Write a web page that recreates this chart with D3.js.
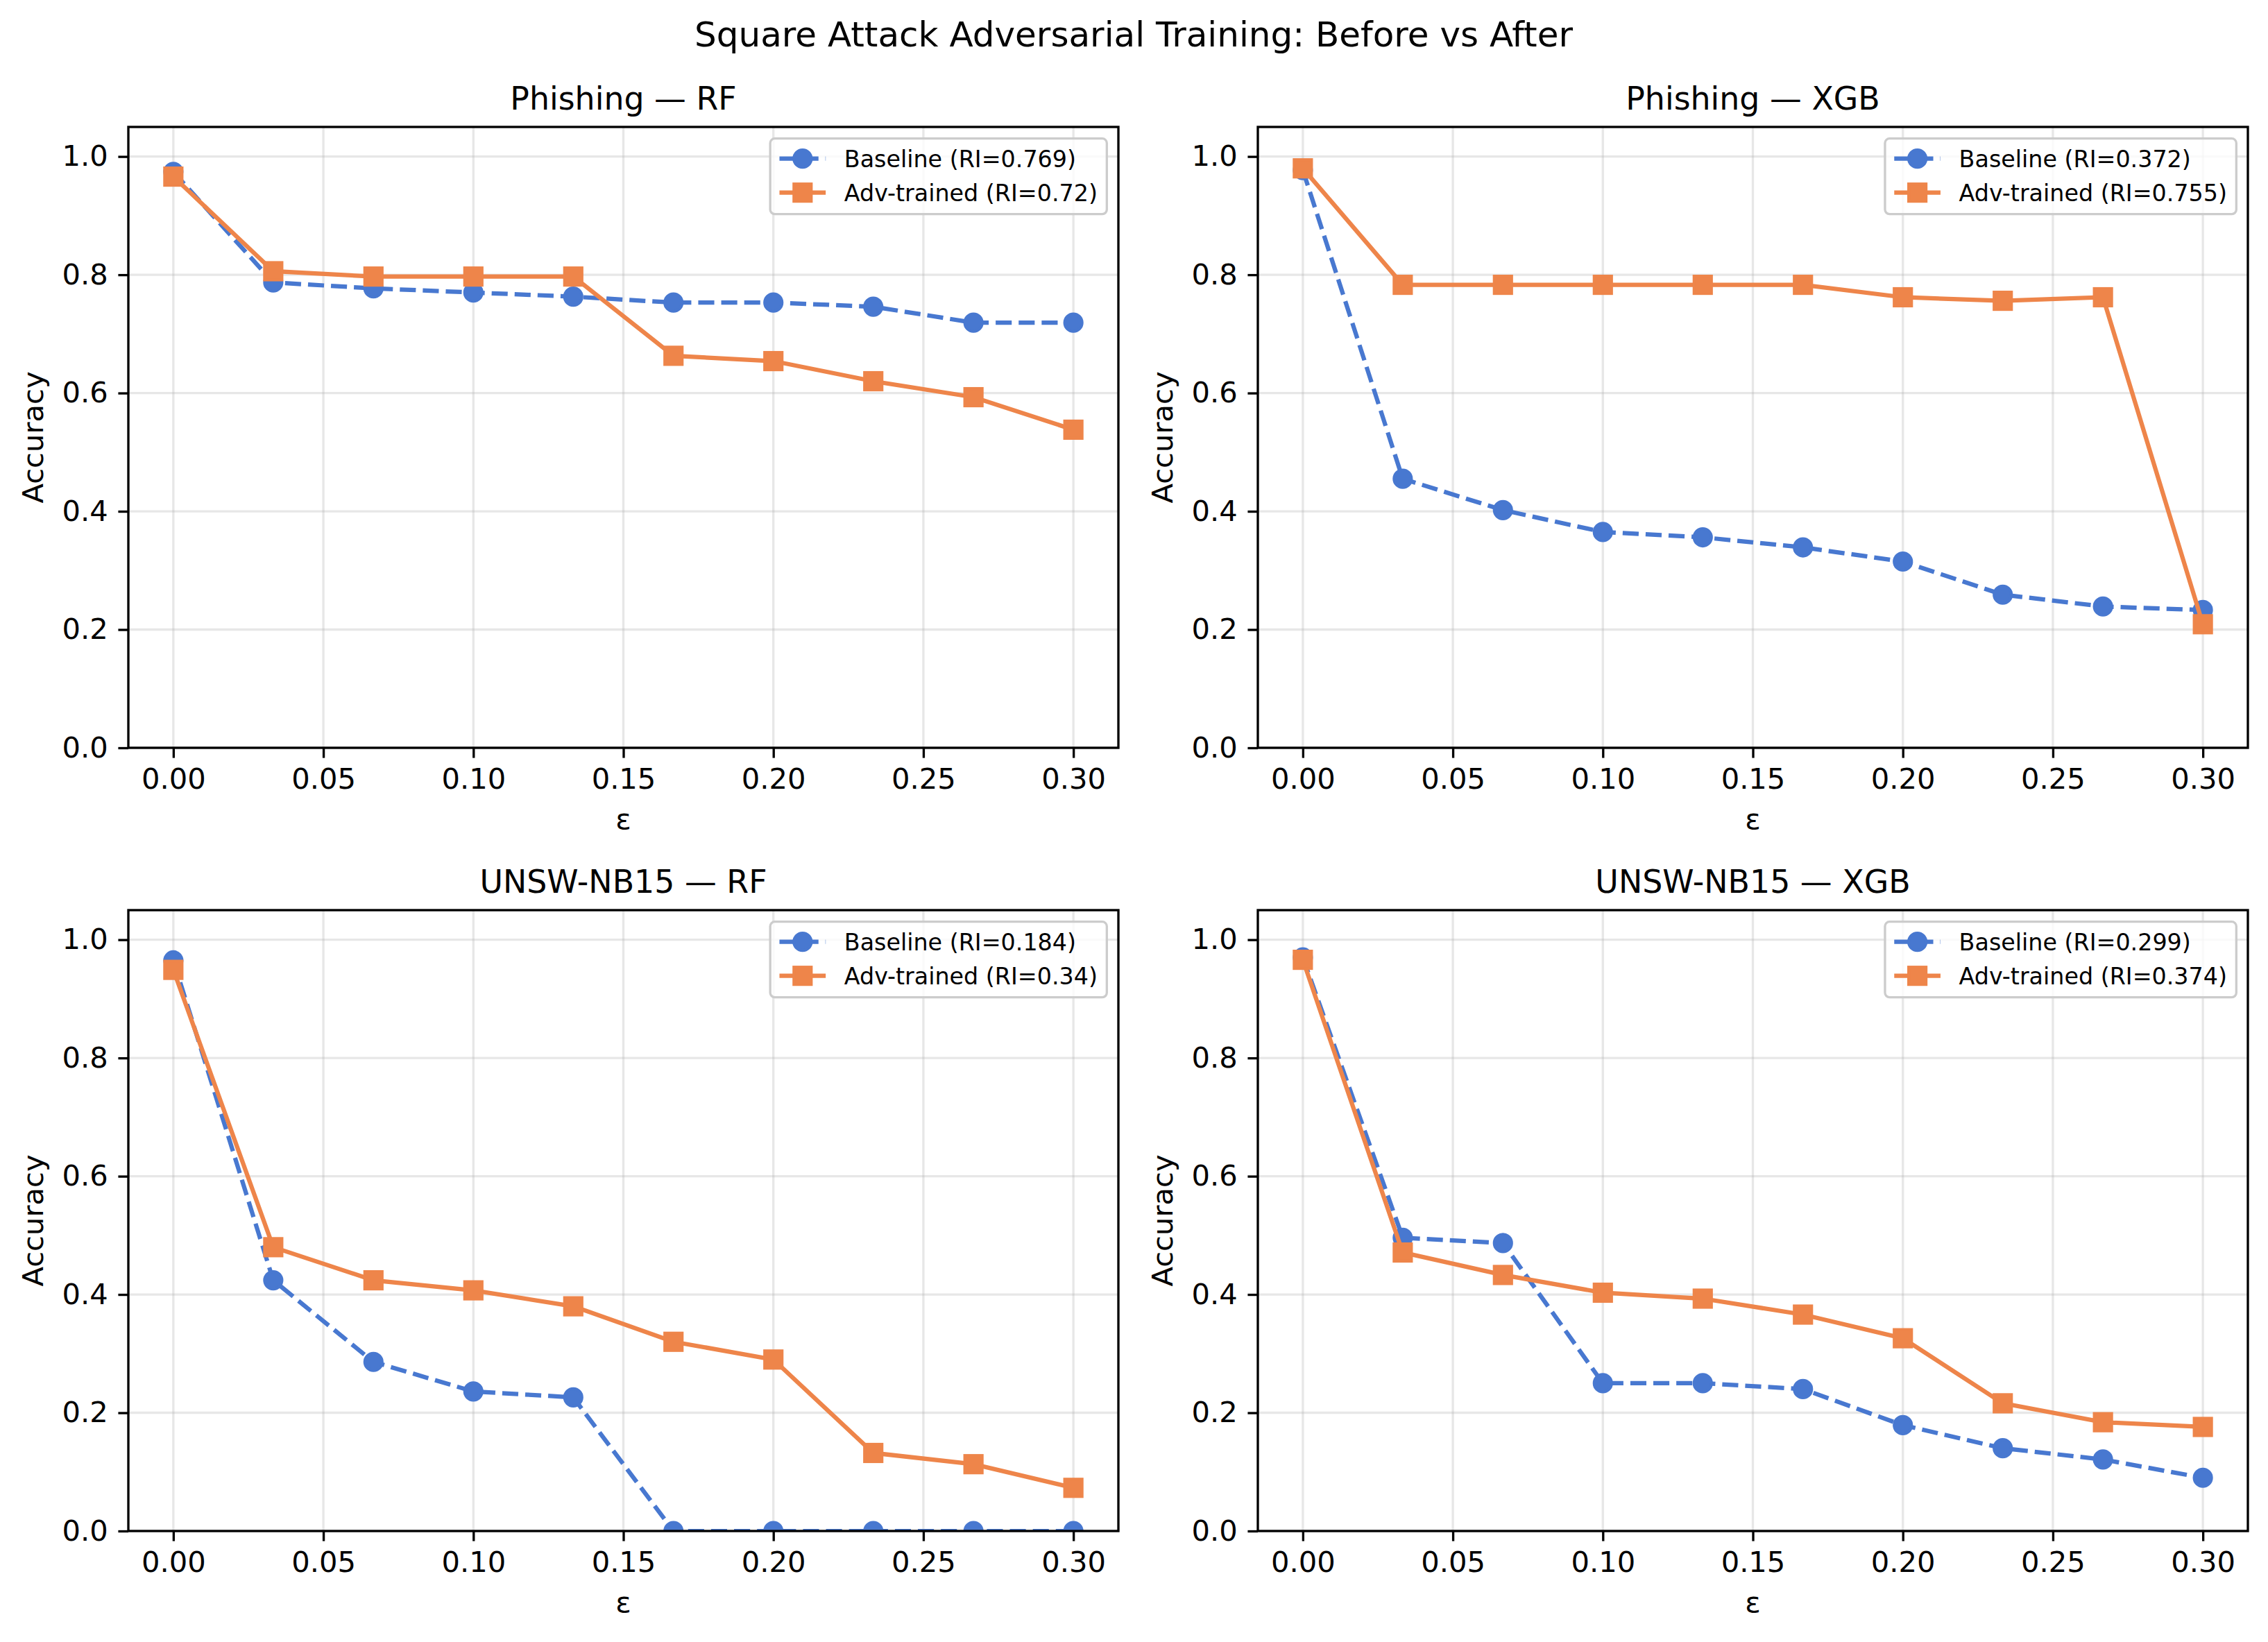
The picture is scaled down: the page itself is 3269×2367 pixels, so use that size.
<!DOCTYPE html>
<html lang="en">
<head>
  <meta charset="UTF-8">
  <title>Square Attack Adversarial Training: Before vs After</title>
  <script src="https://cdn.jsdelivr.net/npm/d3@7"></script>
  <style>
    * { margin: 0; padding: 0; }
    body { background: #ffffff; }
    svg { display: block; }
    text { font-family: "DejaVu Sans", sans-serif; fill: #000; }
  </style>
</head>
<body>
  <div class="chart"></div>
  <script>
    // data
    var eps = [0.0, 0.0333, 0.0667, 0.1, 0.1333, 0.1667, 0.2, 0.2333, 0.2667, 0.3];
    var xTicks = [0, 0.05, 0.1, 0.15, 0.2, 0.25, 0.3];
    var yTicks = [0, 0.2, 0.4, 0.6, 0.8, 1.0];
    var panelTitles = ['Phishing — RF', 'Phishing — XGB', 'UNSW-NB15 — RF', 'UNSW-NB15 — XGB'];
    var baselineRI = ['0.769', '0.372', '0.184', '0.299'];
    var advRI = ['0.72', '0.755', '0.34', '0.374'];

    var phishingRfBase = [0.974, 0.787, 0.777, 0.770, 0.763, 0.753, 0.753, 0.746, 0.719, 0.719];
    var phishingRfAdv = [0.966, 0.806, 0.797, 0.797, 0.797, 0.663, 0.654, 0.620, 0.593, 0.538];
    var phishingXgbBase = [0.977, 0.455, 0.402, 0.365, 0.356, 0.339, 0.315, 0.259, 0.239, 0.233];
    var phishingXgbAdv = [0.980, 0.783, 0.783, 0.783, 0.783, 0.783, 0.762, 0.756, 0.762, 0.209];
    var unswRfBase = [0.965, 0.424, 0.286, 0.236, 0.226, 0.0, 0.0, 0.0, 0.0, 0.0];
    var unswRfAdv = [0.949, 0.480, 0.424, 0.407, 0.380, 0.320, 0.290, 0.132, 0.113, 0.073];
    var unswXgbBase = [0.970, 0.496, 0.487, 0.250, 0.250, 0.240, 0.179, 0.140, 0.121, 0.090];
    var unswXgbAdv = [0.966, 0.471, 0.433, 0.403, 0.393, 0.366, 0.326, 0.216, 0.184, 0.176];

    var baseSeries = [phishingRfBase, phishingXgbBase, unswRfBase, unswXgbBase];
    var advSeries = [phishingRfAdv, phishingXgbAdv, unswRfAdv, unswXgbAdv];

    var blue = '#4878d0';
    var orange = '#ee854a';

    var width = 3269;
    var height = 2367;
    var pt = 300 / 72; // px per point
    var colLeft = [185, 1813];
    var rowTop = [183, 1312];
    var axW = 1427;
    var axH = 895;

    var svg = d3.select('.chart')
      .append('svg')
      .attr('width', width)
      .attr('height', height);

    svg.append('rect')
      .attr('width', width)
      .attr('height', height)
      .attr('fill', '#ffffff');

    // suptitle
    svg.append('text')
      .attr('x', 1634)
      .attr('y', 67)
      .attr('text-anchor', 'middle')
      .style('font-size', '50px')
      .text('Square Attack Adversarial Training: Before vs After');

    panelTitles.forEach(function (title, i) {
      var col = i % 2;
      var row = Math.floor(i / 2);
      var g = svg.append('g')
        .attr('transform', 'translate(' + colLeft[col] + ',' + rowTop[row] + ')');

      var x = d3.scaleLinear().domain([-0.015, 0.315]).range([0, axW]);
      var y = d3.scaleLinear().domain([0, 1.05]).range([axH, 0]);

      // grid
      g.selectAll('.gx')
        .data(xTicks)
        .enter()
        .append('line')
        .attr('x1', function (d) { return x(d); })
        .attr('x2', function (d) { return x(d); })
        .attr('y1', 0)
        .attr('y2', axH)
        .attr('stroke', '#b0b0b0')
        .attr('stroke-opacity', 0.3)
        .attr('stroke-width', 0.8 * pt);
      g.selectAll('.gy')
        .data(yTicks)
        .enter()
        .append('line')
        .attr('x1', 0)
        .attr('x2', axW)
        .attr('y1', function (d) { return y(d); })
        .attr('y2', function (d) { return y(d); })
        .attr('stroke', '#b0b0b0')
        .attr('stroke-opacity', 0.3)
        .attr('stroke-width', 0.8 * pt);

      // axes
      var xAxis = d3.axisBottom(x)
        .tickValues(xTicks)
        .tickFormat(d3.format('.2f'))
        .tickSize(3.5 * pt)
        .tickPadding(3.5 * pt)
        .tickSizeOuter(0);
      var yAxis = d3.axisLeft(y)
        .tickValues(yTicks)
        .tickFormat(d3.format('.1f'))
        .tickSize(3.5 * pt)
        .tickPadding(3.5 * pt)
        .tickSizeOuter(0);

      var gx = g.append('g').attr('transform', 'translate(0,' + axH + ')').call(xAxis);
      var gy = g.append('g').call(yAxis);
      [gx, gy].forEach(function (a) {
        a.select('.domain').remove();
        a.attr('font-family', null).attr('font-size', null);
        a.selectAll('line').attr('stroke', '#000').attr('stroke-width', 0.8 * pt);
        a.selectAll('text').style('font-size', 10 * pt + 'px').attr('fill', '#000');
      });

      // clip for data
      var clipId = 'clip' + i;
      g.append('clipPath')
        .attr('id', clipId)
        .append('rect')
        .attr('width', axW)
        .attr('height', axH);

      var plot = g.append('g').attr('clip-path', 'url(#' + clipId + ')');

      var line = d3.line()
        .x(function (d, j) { return x(eps[j]); })
        .y(function (d) { return y(d); });

      // baseline: dashed + circles
      plot.append('path')
        .attr('d', line(baseSeries[i]))
        .attr('fill', 'none')
        .attr('stroke', blue)
        .attr('stroke-width', 1.5 * pt)
        .attr('stroke-dasharray', (5.55 * pt) + ',' + (2.4 * pt));
      plot.selectAll('.pb')
        .data(baseSeries[i])
        .enter()
        .append('circle')
        .attr('cx', function (d, j) { return x(eps[j]); })
        .attr('cy', function (d) { return y(d); })
        .attr('r', 3 * pt)
        .attr('fill', blue)
        .attr('stroke', blue)
        .attr('stroke-width', 1 * pt);

      // adv-trained: solid + squares
      plot.append('path')
        .attr('d', line(advSeries[i]))
        .attr('fill', 'none')
        .attr('stroke', orange)
        .attr('stroke-width', 1.5 * pt);
      plot.selectAll('.pa')
        .data(advSeries[i])
        .enter()
        .append('rect')
        .attr('x', function (d, j) { return x(eps[j]) - 3 * pt; })
        .attr('y', function (d) { return y(d) - 3 * pt; })
        .attr('width', 6 * pt)
        .attr('height', 6 * pt)
        .attr('fill', orange)
        .attr('stroke', orange)
        .attr('stroke-width', 1 * pt);

      // frame
      g.append('rect')
        .attr('width', axW)
        .attr('height', axH)
        .attr('fill', 'none')
        .attr('stroke', '#000')
        .attr('stroke-width', 0.8 * pt);

      // titles and labels
      g.append('text')
        .attr('x', axW / 2)
        .attr('y', -25)
        .attr('text-anchor', 'middle')
        .style('font-size', 11 * pt + 'px')
        .text(title);
      g.append('text')
        .attr('x', axW / 2)
        .attr('y', axH + 117)
        .attr('text-anchor', 'middle')
        .style('font-size', 10 * pt + 'px')
        .text('ε');
      g.append('text')
        .attr('transform', 'translate(-123,' + axH / 2 + ') rotate(-90)')
        .attr('text-anchor', 'middle')
        .style('font-size', 10 * pt + 'px')
        .text('Accuracy');

      // legend
      var fs = 8 * pt;
      var labels = ['Baseline (RI=' + baselineRI[i] + ')', 'Adv-trained (RI=' + advRI[i] + ')'];
      var leg = g.append('g');
      var box = leg.append('rect');
      var rowsY = [29, 78];
      var maxW = 0;
      labels.forEach(function (lab, k) {
        var t = leg.append('text')
          .attr('x', 0.4 * fs + 2 * fs + 0.8 * fs)
          .attr('y', rowsY[k])
          .attr('dy', '0.36em')
          .style('font-size', fs + 'px')
          .text(lab);
        maxW = Math.max(maxW, t.node().getComputedTextLength());
      });
      var legW = 0.4 * fs + 2 * fs + 0.8 * fs + maxW + 0.4 * fs;
      var legH = 109;
      box.attr('width', legW)
        .attr('height', legH)
        .attr('rx', 0.2 * fs)
        .attr('fill', '#ffffff')
        .attr('fill-opacity', 0.8)
        .attr('stroke', '#cccccc')
        .attr('stroke-width', 0.8 * pt);
      var hx0 = 0.4 * fs;
      var hx1 = hx0 + 2 * fs;
      var hc = (hx0 + hx1) / 2;
      leg.append('line')
        .attr('x1', hx0).attr('x2', hx1)
        .attr('y1', rowsY[0]).attr('y2', rowsY[0])
        .attr('stroke', blue)
        .attr('stroke-width', 1.5 * pt)
        .attr('stroke-dasharray', (5.55 * pt) + ',' + (2.4 * pt));
      leg.append('circle')
        .attr('cx', hc).attr('cy', rowsY[0])
        .attr('r', 3 * pt)
        .attr('fill', blue)
        .attr('stroke', blue)
        .attr('stroke-width', 1 * pt);
      leg.append('line')
        .attr('x1', hx0).attr('x2', hx1)
        .attr('y1', rowsY[1]).attr('y2', rowsY[1])
        .attr('stroke', orange)
        .attr('stroke-width', 1.5 * pt);
      leg.append('rect')
        .attr('x', hc - 3 * pt).attr('y', rowsY[1] - 3 * pt)
        .attr('width', 6 * pt).attr('height', 6 * pt)
        .attr('fill', orange)
        .attr('stroke', orange)
        .attr('stroke-width', 1 * pt);
      leg.attr('transform', 'translate(' + (axW - 0.5 * fs - legW) + ',' + (0.5 * fs) + ')');
    });
  </script>
</body>
</html>
